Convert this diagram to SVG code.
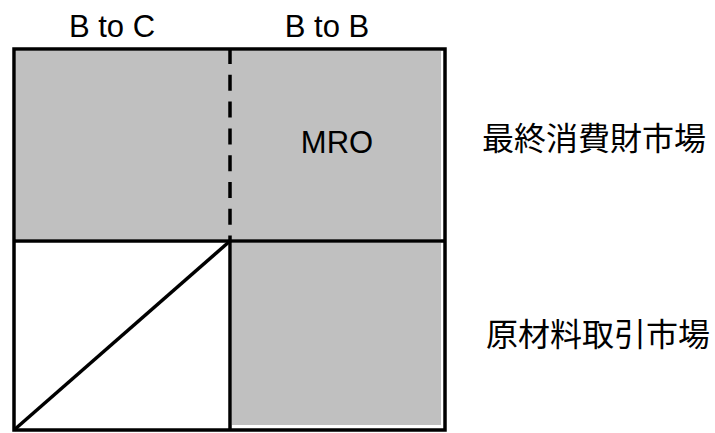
<svg xmlns="http://www.w3.org/2000/svg" width="715" height="433" viewBox="0 0 715 433">
<style>
.fill{fill:#C0C0C0;stroke:none}
.ln{stroke:#000;stroke-width:3.5;fill:none}
.lat{font-family:"Liberation Sans",Arial,sans-serif;font-size:31px;fill:#000;text-anchor:middle}
.cjk{font-family:"Liberation Sans","Noto Sans CJK JP",sans-serif;font-size:32px;fill:#000}
</style>
<rect width="715" height="433" fill="#fff"/>
<g id="top-region"><rect class="fill" x="16" y="51" width="425" height="188"/></g>
<g id="bottom-right"><rect class="fill" x="232" y="243" width="209" height="182"/></g>
<g id="mro"><text class="lat" x="337" y="153">MRO</text></g>
<g id="label-btoc"><text class="lat" x="112" y="37">B to C</text></g>
<g id="label-btob"><text class="lat" x="327" y="37">B to B</text></g>
<g id="label-final"><text class="cjk" x="482" y="150">最終消費財市場</text></g>
<g id="label-raw"><text class="cjk" x="486" y="346">原材料取引市場</text></g>
<g id="connectors">
<rect class="ln" x="14" y="49" width="431" height="381"/>
<line class="ln" x1="14" y1="241" x2="445" y2="241"/>
<line class="ln" x1="230" y1="48" x2="230" y2="241" stroke-dasharray="16 10.8"/>
<line class="ln" x1="230" y1="241" x2="230" y2="430"/>
<line class="ln" x1="14" y1="430" x2="230" y2="241"/>
</g>
</svg>
